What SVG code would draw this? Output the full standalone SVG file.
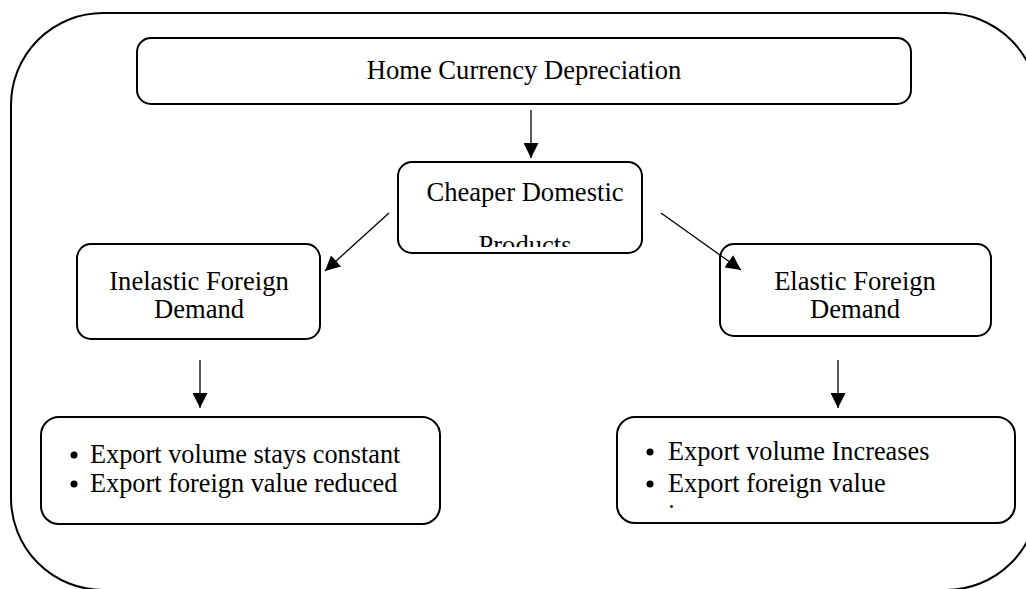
<svg xmlns="http://www.w3.org/2000/svg" width="1026" height="589" viewBox="0 0 1026 589">
<style>
.box{fill:#fff;stroke:#000;stroke-width:2}
.outer{fill:none;stroke:#000;stroke-width:2}
.t{font-family:"Liberation Serif","Times New Roman",serif;font-size:26.6px;fill:#000}
.b{font-size:26.3px}
.c{text-anchor:middle}
.ln{stroke:#000;stroke-width:1.3;fill:none}
</style>
<defs>
<marker id="ah" viewBox="0 0 10 10" refX="10" refY="5" markerWidth="15" markerHeight="15" markerUnits="userSpaceOnUse" orient="auto">
<path d="M0,0 L10,5 L0,10 Z" fill="#000"/>
</marker>
<clipPath id="clipCheap"><rect x="398" y="162" width="244" height="85"/></clipPath>
<clipPath id="clipElastic"><rect x="617" y="417" width="398" height="93"/></clipPath>
</defs>
<g id="frame">
<rect class="outer" x="11" y="13" width="1027" height="577" rx="92" ry="92"/>
</g>
<g id="node-home">
<rect class="box" x="137" y="38" width="774" height="66" rx="14" ry="14"/>
<text class="t c" x="524" y="79">Home Currency Depreciation</text>
</g>
<g id="node-cheaper">
<rect class="box" x="398" y="162" width="244" height="91" rx="14" ry="14"/>
<text class="t c" x="525" y="201">Cheaper Domestic</text>
<text class="t c" x="525" y="254" clip-path="url(#clipCheap)">Products</text>
</g>
<g id="node-inelastic">
<rect class="box" x="77" y="244" width="243" height="95" rx="14" ry="14"/>
<text class="t c" x="199" y="290">Inelastic Foreign</text>
<text class="t c" x="199" y="318">Demand</text>
</g>
<g id="node-elastic">
<rect class="box" x="720" y="244" width="271" height="92" rx="14" ry="14"/>
<text class="t c" x="855" y="290">Elastic Foreign</text>
<text class="t c" x="855" y="318">Demand</text>
</g>
<g id="node-inelastic-effects">
<rect class="box" x="41" y="417" width="399" height="107" rx="18" ry="18"/>
<circle cx="74" cy="455" r="3.5"/>
<circle cx="74" cy="484" r="3.5"/>
<text class="t b" x="90" y="463">Export volume stays constant</text>
<text class="t b" x="90" y="492">Export foreign value reduced</text>
</g>
<g id="node-elastic-effects">
<rect class="box" x="617" y="417" width="398" height="106" rx="18" ry="18"/>
<circle cx="650" cy="452" r="3.5"/>
<circle cx="650" cy="484" r="3.5"/>
<text class="t b" x="668" y="460">Export volume Increases</text>
<text class="t b" x="668" y="492">Export foreign value</text>
<text class="t b" x="668" y="523" clip-path="url(#clipElastic)">increases</text>
</g>
<g id="connectors">
<line class="ln" x1="531" y1="110" x2="531" y2="158" marker-end="url(#ah)"/>
<line class="ln" x1="389" y1="213" x2="325" y2="271" marker-end="url(#ah)"/>
<line class="ln" x1="661" y1="213" x2="741" y2="270" marker-end="url(#ah)"/>
<line class="ln" x1="200" y1="360" x2="200" y2="408" marker-end="url(#ah)"/>
<line class="ln" x1="838" y1="360" x2="838" y2="408" marker-end="url(#ah)"/>
</g>
</svg>
